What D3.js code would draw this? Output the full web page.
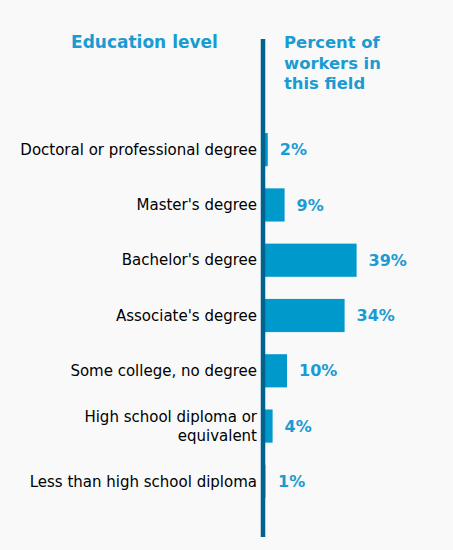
<!DOCTYPE html>
<html><head><meta charset="utf-8">
<script src="https://cdn.jsdelivr.net/npm/d3@7"></script>
<style>
html,body{margin:0;padding:0;background:#f9f9f9;}
svg{display:block;font-family:"DejaVu Sans",Verdana,sans-serif;}
</style></head>
<body>
<svg id="chart" width="453" height="550"></svg>
<script>
const categories = [
  ["Doctoral or professional degree"],
  ["Master's degree"],
  ["Bachelor's degree"],
  ["Associate's degree"],
  ["Some college, no degree"],
  ["High school diploma or", "equivalent"],
  ["Less than high school diploma"]
];
const values = [2, 9, 39, 34, 10, 4, 1];
const valueLabels = ["2%", "9%", "39%", "34%", "10%", "4%", "1%"];
const leftHeader = "Education level";
const rightHeader = ["Percent of", "workers in", "this field"];

const svg = d3.select("#chart");
const blue = "#0099cc", textBlue = "#1a9bd1", axisColor = "#00628d";

const x = d3.scaleLinear().domain([0, 40]).range([263, 359]);
const y = d3.scaleBand().domain(d3.range(categories.length)).range([122, 509]).paddingInner(0.4).paddingOuter(0.2);

svg.selectAll("rect.bar").data(values).enter().append("rect")
  .attr("class","bar")
  .attr("x", x(0))
  .attr("y", (d,i)=>y(i))
  .attr("width", d=>x(d)-x(0))
  .attr("height", y.bandwidth())
  .attr("fill", blue);

svg.append("line").attr("x1",263).attr("x2",263).attr("y1",39).attr("y2",537)
  .attr("stroke",axisColor).attr("stroke-width",4.5);

svg.selectAll("text.val").data(values).enter().append("text")
  .attr("class","val")
  .attr("x", d=>Math.max(x(d), 266)+12)
  .attr("y", (d,i)=>y(i)+y.bandwidth()/2)
  .attr("dy","0.35em")
  .attr("fill", textBlue).attr("font-weight","bold").attr("font-size","16px")
  .text((d,i)=>valueLabels[i]);

const cat = svg.selectAll("text.cat").data(categories).enter().append("text")
  .attr("class","cat")
  .attr("text-anchor","end")
  .attr("font-size","15px").attr("fill","#000");
cat.each(function(lines,i){
  const t = d3.select(this);
  const cy = y(i)+y.bandwidth()/2;
  const lh = 19;
  const start = cy - (lines.length-1)*lh/2;
  lines.forEach((l,k)=>{
    t.append("tspan").attr("x",257).attr("y",start+k*lh).attr("dy","0.35em").text(l);
  });
});

svg.append("text").attr("x",144.5).attr("y",48).attr("text-anchor","middle")
  .attr("fill",textBlue).attr("font-weight","bold").attr("font-size","17px").text(leftHeader);
const rh = svg.append("text").attr("fill",textBlue).attr("font-weight","bold").attr("font-size","16.4px");
rightHeader.forEach((l,k)=>rh.append("tspan").attr("x",284).attr("y",48+k*20.5).text(l));
</script>
</body></html>
